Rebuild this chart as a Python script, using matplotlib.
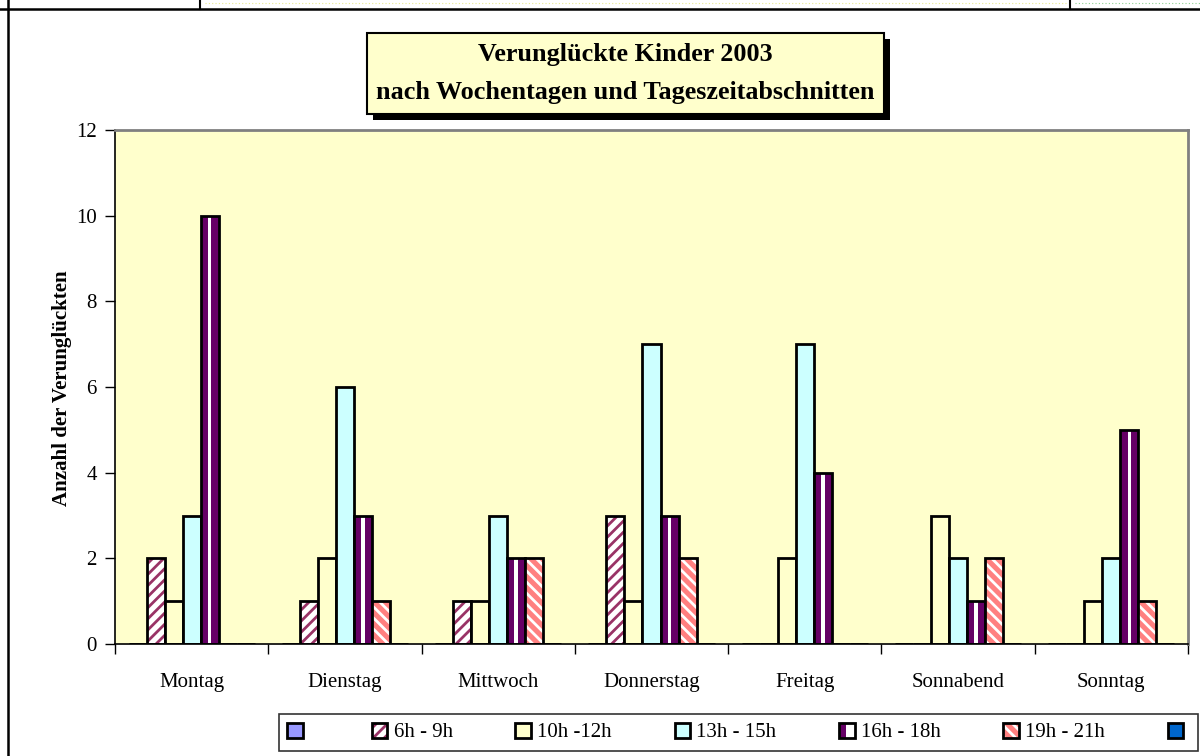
import matplotlib
matplotlib.use("Agg")
import matplotlib.pyplot as plt
import numpy as np
from matplotlib.patches import Rectangle, Patch
from matplotlib.lines import Line2D
from matplotlib.legend_handler import HandlerTuple, HandlerPatch

plt.rcParams['font.family'] = ['Liberation Serif', 'DejaVu Serif']
plt.rcParams['hatch.linewidth'] = 2.0

# ---------------- data ----------------
categories = ["Montag", "Dienstag", "Mittwoch", "Donnerstag", "Freitag", "Sonnabend", "Sonntag"]
series_labels = ["", "6h - 9h", "10h -12h", "13h - 15h", "16h - 18h", "19h - 21h", ""]
s_empty_a = [0, 0, 0, 0, 0, 0, 0]
s_06_09 = [2, 1, 1, 3, 0, 0, 0]
s_10_12 = [1, 2, 1, 1, 2, 3, 1]
s_13_15 = [3, 6, 3, 7, 7, 2, 2]
s_16_18 = [10, 3, 2, 3, 4, 1, 5]
s_19_21 = [0, 1, 2, 2, 0, 2, 1]
s_empty_b = [0, 0, 0, 0, 0, 0, 0]
yticks = [0, 2, 4, 6, 8, 10, 12]
title_lines = ["Verunglückte Kinder 2003", "nach Wochentagen und Tageszeitabschnitten"]
ylabel = "Anzahl der Verunglückten"

W, H = 1200, 756
def fx(x): return x / W
def fy(y): return 1 - y / H

fig = plt.figure(figsize=(12, 7.56), dpi=100)
fig.patch.set_facecolor("white")

# ---------- sheet residue lines ----------
def fline(x0, y0, x1, y1, **kw):
    fig.add_artist(Line2D([fx(x0), fx(x1)], [fy(y0), fy(y1)], transform=fig.transFigure, **kw))

fline(0, 9, 1200, 9, color="black", lw=1.8)
fline(8, 0, 8, 756, color="black", lw=1.8)
fline(200, 0, 200, 9, color="black", lw=1.5)
fline(1070, 0, 1070, 9, color="black", lw=1.5)
fline(205, 3, 1066, 3, color="#e8e890", lw=0.8, ls=(0, (1, 2)))
fline(1075, 3, 1200, 3, color="#90d090", lw=0.8, ls=(0, (1, 2)))

# ---------- axes ----------
L, R, T, B = 115, 1188, 130, 644
ax = fig.add_axes([fx(L), fy(B), fx(R) - fx(L), fy(T) - fy(B)])
ax.set_facecolor("#FFFFCC")

n_series = 7
gap = 1.5
bw = 1.0 / (n_series + gap)
x = np.arange(len(categories))

def off(i):
    return (i - (n_series - 1) / 2) * bw

# series 0 (empty, light purple)
ax.bar(x + off(0), s_empty_a, bw, color="#9999FF", edgecolor="black", lw=2)
# 6h - 9h : white with maroon diagonal stripes
ax.bar(x + off(1), s_06_09, bw, color="white", edgecolor="#993366", lw=0, hatch="///")
ax.bar(x + off(1), s_06_09, bw, fill=False, edgecolor="black", lw=2)
# 10h - 12h
ax.bar(x + off(2), s_10_12, bw, color="#FFFFCC", edgecolor="black", lw=2)
# 13h - 15h
ax.bar(x + off(3), s_13_15, bw, color="#CCFFFF", edgecolor="black", lw=2)
# 16h - 18h : purple with white centre stripe
ax.bar(x + off(4), s_16_18, bw, color="#660066", edgecolor="none", lw=0)
ax.bar(x + off(4), s_16_18, bw * 0.2, color="white", edgecolor="none", lw=0)
ax.bar(x + off(4), s_16_18, bw, fill=False, edgecolor="black", lw=2)
# 19h - 21h : salmon with white stripes
ax.bar(x + off(5), s_19_21, bw, color="#FF8080", edgecolor="white", lw=0, hatch="\\\\\\")
ax.bar(x + off(5), s_19_21, bw, fill=False, edgecolor="black", lw=2)
# series 6 (empty, blue)
ax.bar(x + off(6), s_empty_b, bw, color="#0066CC", edgecolor="black", lw=2)

ax.set_xlim(-0.5, len(categories) - 0.5)
ax.set_ylim(0, 12)
ax.set_yticks(yticks)
ax.set_yticklabels([str(v) for v in yticks])
ax.set_xticks(x)
ax.set_xticklabels(categories)
ax.set_xticks(np.arange(len(categories) + 1) - 0.5, minor=True)
ax.tick_params(axis="x", which="major", length=0, pad=21, labelsize=15)
ax.tick_params(axis="x", which="minor", length=7, width=1, direction="out", color="black")
ax.tick_params(axis="y", which="major", length=7, width=1, direction="out", pad=6, labelsize=15)

for s in ["left", "bottom"]:
    ax.spines[s].set_color("black")
    ax.spines[s].set_linewidth(1.2)
for s in ["top", "right"]:
    ax.spines[s].set_color("#808080")
    ax.spines[s].set_linewidth(2)

fig.text(fx(62), fy(388), ylabel, rotation=90, ha="center", va="center",
         fontsize=15, fontweight="bold")

# ---------- title box ----------
bx0, by0, bx1, by1 = 367, 33, 884, 114
sh = 6
fig.add_artist(Rectangle((fx(bx0 + sh), fy(by1 + sh)), fx(bx1) - fx(bx0), fy(by0) - fy(by1),
                         transform=fig.transFigure, facecolor="black", edgecolor="none"))
fig.add_artist(Rectangle((fx(bx0), fy(by1)), fx(bx1) - fx(bx0), fy(by0) - fy(by1),
                         transform=fig.transFigure, facecolor="#FFFFCC", edgecolor="black", lw=1.5))
cx = (bx0 + bx1) / 2
fig.text(fx(cx), fy(55), title_lines[0], ha="center", va="center", fontsize=18.8, fontweight="bold")
fig.text(fx(cx), fy(92), title_lines[1], ha="center", va="center", fontsize=18.8, fontweight="bold")

# ---------- legend ----------
def right_half(legend, orig_handle, xdescent, ydescent, width, height, fontsize):
    return Rectangle((-xdescent + width * 0.45, -ydescent), width * 0.55, height)

outline = lambda: Patch(fill=False, edgecolor="black", lw=2)
white_half = Patch(facecolor="white", edgecolor="none", lw=0)

h0 = Patch(facecolor="#9999FF", edgecolor="black", lw=2)
h1 = (Patch(facecolor="white", edgecolor="#993366", lw=0, hatch="///"), outline())
h2 = Patch(facecolor="#FFFFCC", edgecolor="black", lw=2)
h3 = Patch(facecolor="#CCFFFF", edgecolor="black", lw=2)
h4 = (Patch(facecolor="#660066", edgecolor="none", lw=0), white_half, outline())
h5 = (Patch(facecolor="#FF8080", edgecolor="white", lw=0, hatch="\\\\\\"), outline())
h6 = Patch(facecolor="#0066CC", edgecolor="black", lw=2)

lx0, ly0, lx1, ly1 = 279, 712, 1198, 753
leg = fig.legend([h0, h1, h2, h3, h4, h5, h6], series_labels,
                 handler_map={tuple: HandlerTuple(ndivide=1, pad=0),
                              white_half: HandlerPatch(patch_func=right_half)},
                 loc="center", ncol=7, mode="expand",
                 bbox_to_anchor=(fx(lx0), fy(ly1), fx(lx1) - fx(lx0), fy(ly0) - fy(ly1)),
                 bbox_transform=fig.transFigure,
                 fontsize=15, handlelength=0.75, handleheight=0.75, handletextpad=0.3,
                 borderaxespad=0, borderpad=0.4, fancybox=False, frameon=True)
leg.get_frame().set_edgecolor("black")
leg.get_frame().set_linewidth(1.2)

fig.savefig("out.png", dpi=100, facecolor="white")
